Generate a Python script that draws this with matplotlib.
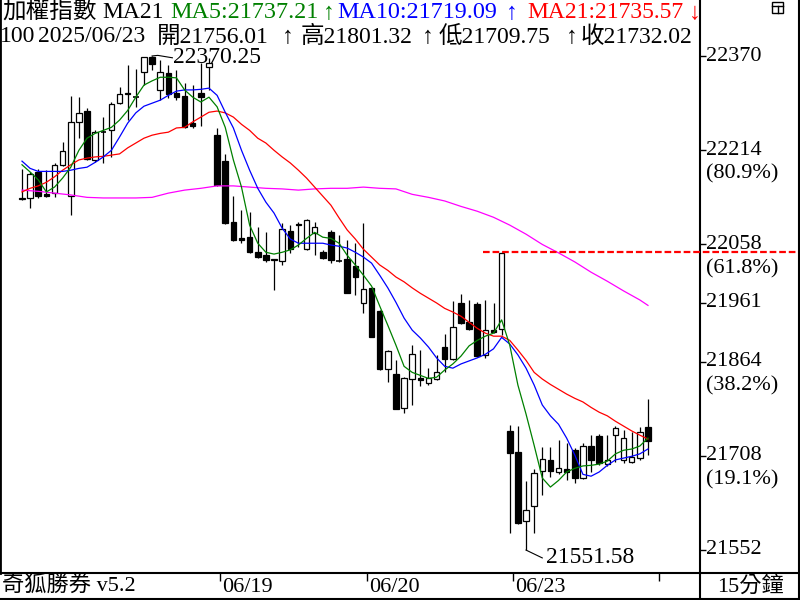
import matplotlib
matplotlib.use("Agg")
import matplotlib.pyplot as plt
from matplotlib.patches import Rectangle
from matplotlib.lines import Line2D

plt.rcParams['font.family'] = ['Liberation Serif', 'Noto Sans CJK TC', 'DejaVu Sans']

# 加權指數 15分K (06/18 ~ 06/23), one entry per bar
opens = [22133, 22135, 22178, 22141, 22143, 22189, 22138, 22261, 22279, 22198,
         22244, 22247, 22292, 22309, 22302, 22343, 22368, 22314, 22342, 22309,
         22304, 22259, 22309, 22352, 22239, 22196, 22095, 22068, 22070, 22045,
         22040, 22034, 22030, 22080, 22092, 22050, 22077, 22045, 22078, 22030,
         22034, 22022, 21961, 21986, 21948, 21851, 21843, 21787, 21835, 21836,
         21828, 21835, 21888, 21868, 21961, 21929, 21959, 21874, 21916, 21918,
         21749, 21714, 21600, 21624, 21683, 21701, 21681, 21686, 21717, 21671,
         21724, 21740, 21694, 21742, 21701, 21697, 21704, 21756.01]
highs = [22183, 22178, 22183, 22181, 22193, 22228, 22304, 22302, 22284, 22247,
         22269, 22294, 22319, 22355, 22348, 22368, 22370.25, 22363, 22355, 22347,
         22325, 22322, 22358, 22367, 22251, 22208, 22138, 22115, 22111, 22087,
         22078, 22034, 22093, 22090, 22095, 22100, 22095, 22049, 22082, 22073,
         22065, 22060, 22093, 21987, 21950, 21883, 21866, 21838, 21891, 21883,
         21853, 21875, 21909, 21964, 21976, 21966, 21962, 21966, 21961, 22045,
         21759, 21757, 21666, 21686, 21722, 21722, 21734, 21729, 21720, 21729,
         21742, 21744, 21742, 21757, 21750, 21747, 21755, 21801.32]
lows = [22132, 22118, 22135, 22136, 22136, 22188, 22107, 22234, 22198, 22194,
        22193, 22203, 22290, 22264, 22285, 22322, 22347, 22297, 22300, 22297,
        22251, 22251, 22254, 22314, 22155, 22092, 22063, 22060, 22044, 22035,
        22029, 21982, 22024, 22044, 22054, 22049, 22040, 22034, 22027, 22029,
        21977, 21974, 21944, 21904, 21850, 21830, 21785, 21778, 21792, 21823,
        21825, 21833, 21846, 21866, 21926, 21916, 21871, 21870, 21911, 21908,
        21580, 21595, 21551.58, 21580, 21643, 21672, 21678, 21667, 21662, 21669,
        21681, 21692, 21691, 21697, 21696, 21696, 21701, 21709.75]
closes = [22135, 22175, 22138, 22138, 22189, 22213, 22261, 22276, 22199, 22244,
          22245, 22290, 22307, 22307, 22303, 22368, 22357, 22343, 22307, 22302,
          22252, 22254, 22302, 22358, 22156, 22093, 22065, 22065, 22045, 22037,
          22032, 22032, 22083, 22050, 22090, 22098, 22087, 22035, 22032, 22031,
          21977, 22004, 21984, 21904, 21851, 21881, 21785, 21836, 21876, 21833,
          21836, 21846, 21868, 21921, 21928, 21918, 21873, 21916, 21913, 22044,
          21712, 21596, 21618, 21679, 21702, 21683, 21687, 21681, 21671, 21724,
          21701, 21696, 21701, 21754, 21737, 21706, 21747, 21732.02]

# moving averages
ma5 = [22190, 22178, 22165, 22145, 22153, 22168, 22186, 22214, 22234, 22242,
       22247, 22252, 22264, 22280, 22302, 22322, 22329, 22335, 22335, 22334,
       22314, 22302, 22294, 22302, 22286, 22252, 22198, 22153, 22090, 22060,
       22045, 22042, 22045, 22049, 22057, 22068, 22078, 22070, 22068, 22060,
       22040, 22024, 22007, 21989, 21956, 21924, 21891, 21856, 21846, 21841,
       21836, 21838, 21850, 21860, 21873, 21890, 21899, 21906, 21911, 21933,
       21891, 21825, 21777, 21725, 21671, 21656, 21667, 21681, 21687, 21691,
       21692, 21694, 21699, 21711, 21717, 21719, 21724, 21737.21]
ma10 = [22196, 22184, 22179, 22179, 22179, 22179, 22181, 22184, 22186, 22194,
        22203, 22214, 22236, 22259, 22276, 22287, 22292, 22297, 22305, 22312,
        22314, 22314, 22315, 22317, 22305, 22277, 22251, 22214, 22181, 22151,
        22128, 22110, 22085, 22067, 22060, 22060, 22060, 22060, 22057, 22055,
        22052, 22045, 22037, 22027, 22007, 21986, 21962, 21936, 21916, 21903,
        21888, 21870, 21856, 21853, 21860, 21865, 21870, 21876, 21885, 21904,
        21893, 21875, 21853, 21825, 21792, 21774, 21760, 21737, 21709, 21677,
        21674, 21681, 21692, 21701, 21704, 21707, 21711, 21719.09]
ma21 = [22145, 22151, 22155, 22161, 22170, 22181, 22190, 22198, 22201, 22203,
        22204, 22206, 22208, 22218, 22226, 22234, 22239, 22242, 22244, 22251,
        22252, 22261, 22269, 22277, 22279, 22276, 22269, 22257, 22247, 22234,
        22226, 22214, 22203, 22193, 22181, 22168, 22153, 22138, 22123, 22102,
        22082, 22067, 22050, 22037, 22024, 22015, 22004, 21996, 21986, 21977,
        21969, 21961, 21952, 21946, 21939, 21929, 21919, 21911, 21906, 21906,
        21899, 21883, 21866, 21846, 21835, 21826, 21818, 21810, 21803, 21797,
        21788, 21780, 21774, 21765, 21757, 21749, 21742, 21735.57]
ma_long_idx = [0, 2, 4, 6, 8, 10, 12, 14, 16, 18, 20, 22, 24, 26, 28, 30, 32, 34, 36, 38,
               40, 42, 44, 46, 48, 50, 52, 54, 56, 58, 60, 62, 64, 66, 68, 70, 72, 74, 76, 77]
ma_long = [22148, 22146, 22143, 22140, 22136, 22135, 22135, 22135, 22136, 22143,
           22148, 22151, 22155, 22155, 22153, 22151, 22150, 22148, 22150, 22151,
           22151, 22153, 22151, 22150, 22141, 22136, 22130, 22121, 22113, 22103,
           22090, 22075, 22058, 22044, 22029, 22012, 21997, 21981, 21966, 21957]

day_starts = [24, 42, 60, 78]
day_labels = ['06/19', '06/20', '06/23', '']
price_ticks = [22370, 22214, 22058, 21961, 21864, 21708, 21552]
tick_pct = ['', '(80.9%)', '(61.8%)', '', '(38.2%)', '(19.1%)', '']

W, H = 800, 600
fig = plt.figure(figsize=(8, 6), dpi=100)
ax = fig.add_axes([0, 27 / H, 700 / W, 573 / H])
ax.set_xlim(-2.706, 83.4)
ax.set_ylim(21513.6, 22463.0)

n = len(closes)
bw = 0.68
for i in range(n):
    o, h, l, c = opens[i], highs[i], lows[i], closes[i]
    ax.vlines(i, l, h, color='black', lw=0.9, zorder=2)
    if abs(c - o) < 2:
        ax.hlines((o + c) / 2, i - bw / 2, i + bw / 2, color='black', lw=1.2, zorder=3)
    else:
        face = 'white' if c > o else 'black'
        ax.add_patch(Rectangle((i - bw / 2, min(o, c)), bw, abs(c - o),
                               facecolor=face, edgecolor='black', lw=0.9, zorder=3))

x = list(range(n))
ax.plot(ma_long_idx, ma_long, color='#ff00ff', lw=0.9, zorder=4)
ax.plot(x, ma21, color='#ff0000', lw=0.9, zorder=4)
ax.plot(x, ma10, color='#0000ff', lw=0.9, zorder=4)
ax.plot(x, ma5, color='#008000', lw=0.9, zorder=4)

# dashed line at the 06/20 closing spike high
spike = day_starts[2] - 1
ax.plot([spike - 2.3, 95.7], [highs[spike], highs[spike]], color='#ff0000', lw=1.6,
        dashes=(3, 1.3), clip_on=False, zorder=5)

# high / low markers
hi_i = highs.index(max(highs))
lo_i = lows.index(min(lows))
ax.plot([hi_i, hi_i + 0.7, hi_i + 2.5], [max(highs), max(highs) + 1, max(highs) - 3],
        color='black', lw=0.8, zorder=5)
ax.text(hi_i + 2.6, max(highs) - 2, f"{max(highs):.2f}", fontsize=17, va='center', ha='left', zorder=6)
ax.plot([lo_i, lo_i + 2.0], [min(lows), min(lows) - 13], color='black', lw=0.8, zorder=5)
ax.text(lo_i + 2.4, min(lows) - 12, f"{min(lows):.2f}", fontsize=17, va='center', ha='left', zorder=6)

# axes look
ax.spines['top'].set_visible(False)
ax.spines['left'].set_linewidth(2)
ax.spines['right'].set_linewidth(1.5)
ax.spines['bottom'].set_linewidth(1.5)
ax.yaxis.tick_right()
ax.set_yticks(price_ticks)
ax.tick_params(axis='y', direction='out', length=4, width=1, labelright=False, labelleft=False)
ax.set_xticks([d + 0.4 for d in day_starts])
ax.tick_params(axis='x', direction='out', length=6, width=1, labelbottom=False)

for v, pct in zip(price_ticks, tick_pct):
    ax.annotate(str(v), xy=(1, v), xycoords=('axes fraction', 'data'), xytext=(6, 0),
                textcoords='offset pixels', va='center', ha='left', fontsize=16, annotation_clip=False)
    if pct:
        ax.annotate(pct, xy=(1, v), xycoords=('axes fraction', 'data'), xytext=(6, -24),
                    textcoords='offset pixels', va='center', ha='left', fontsize=16, annotation_clip=False)

for d, lab in zip(day_starts, day_labels):
    if lab:
        ax.annotate(lab, xy=(d + 0.4, 0), xycoords=('data', 'axes fraction'), xytext=(2, -14),
                    textcoords='offset pixels', va='center', ha='left', fontsize=16, annotation_clip=False)

# header lines
def px(xp, yp):
    return xp / W, 1 - yp / H

green, blue, red = '#008000', '#0000ff', '#ff0000'
row1 = [("加權指數", 2, 'black', 17), ("MA21", 102, 'black', 17),
        (f"MA5:{ma5[-1]:.2f}", 170, green, 17.4), (f"MA10:{ma10[-1]:.2f}", 337, blue, 17.4),
        (f"MA21:{ma21[-1]:.2f}", 527, red, 17)]
for txt, xp, col, fs in row1:
    fig.text(*px(xp, 13), txt, color=col, fontsize=fs, va='center', ha='left')
for sym, xp, col in [("↑", 329, green), ("↑", 512, blue), ("↓", 695, red)]:
    fig.text(*px(xp, 13), sym, color=col, fontsize=17, va='center', ha='center')

row2 = [("100", 0), ("2025/06/23", 38), (f"開{opens[-1]:.2f}", 157),
        (f"高{highs[-1]:.2f}", 301), (f"低{lows[-1]:.2f}", 439), (f"收{closes[-1]:.2f}", 581)]
for txt, xp in row2:
    fig.text(*px(xp, 37), txt, color='black', fontsize=17, va='center', ha='left')
for xp in [288, 428, 572]:
    fig.text(*px(xp, 37), "↑", color='black', fontsize=17, va='center', ha='center')

# bottom strip
fig.text(*px(2, 586), "奇狐勝券 v5.2", fontsize=16, va='center', ha='left')
fig.text(*px(750, 586), "15分鐘", fontsize=16, va='center', ha='center')

lines = [((700, 800), (573, 573)), ((700, 700), (573, 600)),
         ((0, 800), (598.5, 598.5)), ((798.5, 798.5), (0, 600))]
for xs, ys in lines:
    fig.add_artist(Line2D([v / W for v in xs], [1 - v / H for v in ys], color='black', lw=1.5))

# small window icon, top right
fig.add_artist(Rectangle(px(772, 13), 11 / W, 11 / H, fill=False, edgecolor='black', lw=1))
fig.add_artist(Line2D([772 / W, 783 / W], [1 - 6 / H, 1 - 6 / H], color='black', lw=1))
fig.add_artist(Line2D([778 / W, 778 / W], [1 - 6 / H, 1 - 13 / H], color='black', lw=1))

fig.savefig("out.png", dpi=100)
